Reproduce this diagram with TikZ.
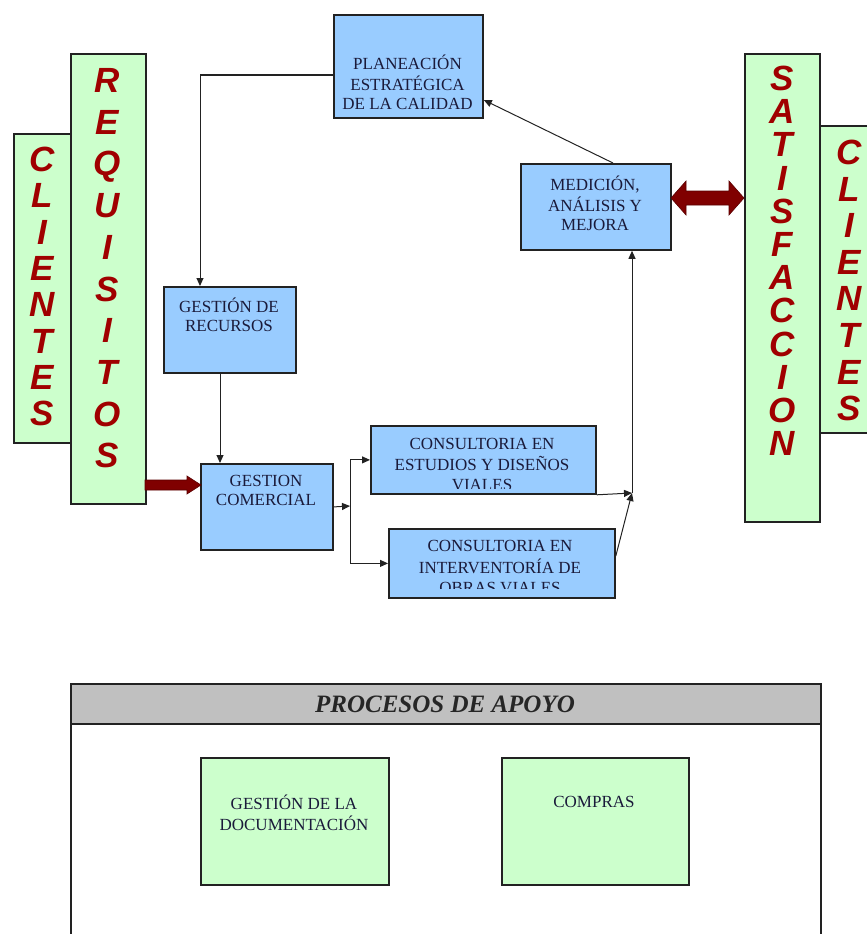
\documentclass[tikz,border=0pt]{standalone}
\usepackage{fontspec}
\setmainfont{Liberation Serif}
\setsansfont{Liberation Sans}
\usetikzlibrary{calc,arrows.meta}

\definecolor{boxblue}{HTML}{99CCFF}
\definecolor{boxgreen}{HTML}{CCFFCC}
\definecolor{hdrgray}{HTML}{C0C0C0}
\definecolor{lettred}{HTML}{A00000}
\definecolor{arrowred}{HTML}{800000}
\definecolor{boxtext}{HTML}{1A1A3A}
\definecolor{edge}{HTML}{222222}

\tikzset{
  x=1pt, y=-1pt,
  procbox/.style={rectangle, draw=edge, line width=1.8pt, fill=boxblue,
    inner sep=0pt, anchor=north west},
  supbox/.style={procbox, fill=boxgreen},
  bigletter/.style={font=\sffamily\bfseries\itshape\fontsize{35}{35}\selectfont,
    text=lettred, anchor=base, inner sep=0pt},
  boxlabel/.style={font=\fontsize{17}{19}\selectfont, text=boxtext,
    align=center, inner sep=0pt, anchor=north},
  conn/.style={draw=edge, line width=1pt, -{Triangle[length=8pt,width=7pt]}},
  blockarrow/.style={fill=arrowred, draw=arrowred!70!black, line width=0.6pt},
}

\begin{document}
\begin{tikzpicture}
\useasboundingbox (0,0) rectangle (867,934);
\clip (0,0) rectangle (867,934);

% side banners
\node[supbox, minimum width=57pt, minimum height=309pt] (cliL) at (13,133) {};
\node[supbox, minimum width=75pt, minimum height=450pt] (req) at (70,53) {};
\node[supbox, minimum width=75pt, minimum height=468pt] (sat) at (744,53) {};
\node[supbox, minimum width=60pt, minimum height=307pt] (cliR) at (819,125) {};

\foreach \ch [count=\i from 0] in {C,L,I,E,N,T,E,S}
  \node[bigletter] (cliL-\i) at (42,{159+36.3*\i+12.5}) {\ch};
\foreach \ch [count=\i from 0] in {R,E,Q,U,I,S,I,T,O,S}
  \node[bigletter] (req-\i) at (107,{80+41.7*\i+12.5}) {\ch};
\foreach \ch [count=\i from 0] in {S,A,T,I,S,F,A,C,C,I,O,N}
  \node[bigletter] (sat-\i) at (782,{78+33.2*\i+12.5}) {\ch};
\foreach \ch [count=\i from 0] in {C,L,I,E,N,T,E,S}
  \node[bigletter] (cliR-\i) at (849,{152+36.6*\i+12.5}) {\ch};

% process boxes
\node[procbox, minimum width=149pt, minimum height=103pt] (plan) at (333,14) {};
\node[procbox, minimum width=150pt, minimum height=86pt] (med) at (520,163) {};
\node[procbox, minimum width=132pt, minimum height=86pt] (rec) at (163,286) {};
\node[procbox, minimum width=132pt, minimum height=86pt] (com) at (200,463) {};
\node[procbox, minimum width=225pt, minimum height=68pt] (est) at (370,425) {};
\node[procbox, minimum width=226pt, minimum height=69pt] (int) at (388,528) {};

\node[boxlabel] (plan-t) at (407.5,54.3) {\strut PLANEACIÓN\\\strut ESTRATÉGICA\\\strut DE LA CALIDAD};
\node[boxlabel] (med-t) at (595,175.3) {\strut MEDICIÓN,\\\strut ANÁLISIS Y\\\strut MEJORA};
\node[boxlabel] (rec-t) at (229,297.3) {\strut GESTIÓN DE\\\strut RECURSOS};
\node[boxlabel] (com-t) at (266,473.3) {\strut GESTION\\\strut COMERCIAL};
% the text frames of the two consultancy boxes cut off their last line
\begin{scope}
  \clip ($(est.south west)+(0,-6)$) rectangle (est.north east);
  \node[boxlabel, font=\fontsize{17}{19.5}\selectfont] (est-t) at (482,436)
    {\strut CONSULTORIA EN\\\strut ESTUDIOS Y DISEÑOS\\\strut VIALES};
\end{scope}
\begin{scope}
  \clip ($(int.south west)+(0,-10)$) rectangle (int.north east);
  \node[boxlabel, font=\fontsize{17}{20}\selectfont] (int-t) at (500,537.6)
    {\strut CONSULTORIA EN\\\strut INTERVENTORÍA DE\\\strut OBRAS VIALES};
\end{scope}

% connectors
\coordinate (planL) at (333,75);
\coordinate (recT) at (200,286);
\draw[conn] (planL) -| (recT);
\draw[conn] ($(rec.south west)+(57,0)$) -- ($(com.north west)+(20,0)$);
\coordinate (split) at (350,506);
\draw[conn] (com.east) -- (split);
\draw[conn] (split) |- (est.west);
\draw[conn] (split) |- (int.west);
\coordinate (join) at (632,493);
\draw[conn] (est.south east) -- (join);
\draw[conn] ($(int.north east)+(0,28)$) -- (join);
\draw[conn] (join) -- (join |- med.south);
\draw[conn] ($(med.north west)+(93,0)$) -- ($(plan.north east)+(0,86)$);

% block arrows
\coordinate (ra) at (145,485);
\coordinate (rb) at (201,485);
\fill[blockarrow] (ra) ++(0,-5) -- ++(42,0) -- ++(0,-4) -- (rb) -- ++(-14,9) -- ++(0,-4) -- ++(-42,0) -- cycle;
\coordinate (da) at (671,198);
\coordinate (db) at (744,198);
\fill[blockarrow] (da) -- ++(15,-17) -- ++(0,10) -- ++(43,0) -- ++(0,-10) -- (db)
  -- ++(-15,17) -- ++(0,-10) -- ++(-43,0) -- ++(0,10) -- cycle;

% support processes
\node[rectangle, draw=edge, line width=1.8pt, fill=white, inner sep=0pt,
  anchor=north west, minimum width=750pt, minimum height=280pt] (apoyo) at (70,683) {};
\node[rectangle, draw=edge, line width=1.8pt, fill=hdrgray, inner sep=0pt,
  anchor=north west, minimum width=750pt, minimum height=40pt] (apoyo-h) at (70,683) {};
\node[font=\bfseries\itshape\fontsize{25}{25}\selectfont, text=black!85, inner sep=0pt]
  (apoyo-t) at (445,704) {PROCESOS DE APOYO};

\node[supbox, minimum width=188pt, minimum height=127pt] (doc) at (200,757) {};
\node[supbox, minimum width=187pt, minimum height=127pt] (comp) at (501,757) {};
\node[boxlabel] (doc-t) at (294,794.3) {\strut GESTIÓN DE LA\\\strut DOCUMENTACIÓN};
\node[boxlabel] (comp-t) at (594,794.3) {\strut COMPRAS};

\end{tikzpicture}
\end{document}
